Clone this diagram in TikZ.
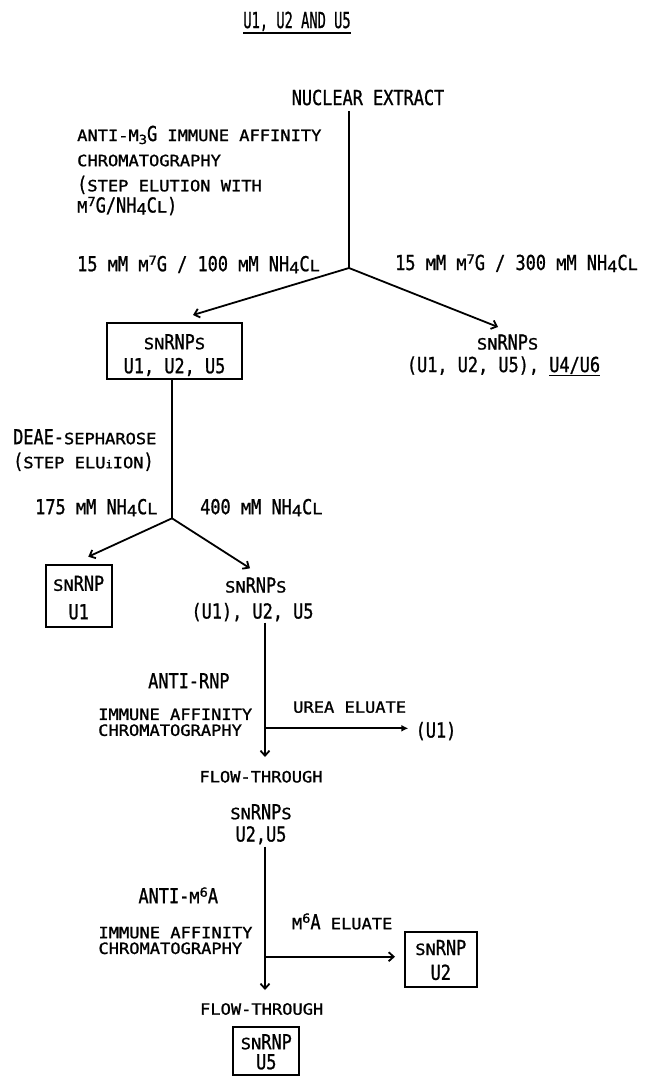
\documentclass[tikz,border=0pt]{standalone}
\usepackage{fontspec}
\usetikzlibrary{arrows.meta}
\newfontfamily\bigfont[FakeStretch=0.82, FakeBold=1.0]{DejaVu Sans Mono}
\newfontfamily\smfont[FakeStretch=1.1, FakeBold=1.3]{DejaVu Sans Mono}
\newcommand\smc[1]{{\smfont\fontsize{15.5}{16}\selectfont #1}}
\newcommand\supc[1]{\raisebox{6.5pt}{\smfont\fontsize{12.5}{12}\selectfont #1}}
\newcommand\subc[1]{\raisebox{-3pt}{\smfont\fontsize{12.5}{12}\selectfont #1}}
\newcommand\subn[1]{\raisebox{-2pt}{\smc{#1}}}
\begin{document}
\begin{tikzpicture}[x=1pt,y=-1pt,
  t/.style={inner sep=0pt, text height=15pt, text depth=0pt, font=\bigfont\fontsize{20.6}{22}\selectfont},
  tw/.style={t, anchor=west},
  ts/.style={t, text height=11.3pt},
  tsw/.style={ts, anchor=west},
  boxst/.style={draw, line width=1.9pt, inner sep=0pt},
  ln/.style={line width=1.8pt},
  arr/.style={ln, -{Straight Barb[length=5pt,width=9pt]}},
  arrf/.style={ln, -{Latex[length=7pt,width=7pt]}}]
\useasboundingbox (0,0) rectangle (650,1076);
% title
\node[t] (title) at (297,20.5) {\scalebox{0.76}[1]{\fontsize{22}{22}\selectfont U1, U2 AND U5}};
\draw[line width=1.4pt] ([yshift=-5pt]title.base west) -- ([yshift=-5pt]title.base east);
% step 1
\node[t] (ne) at (368,97.5) {NUCLEAR EXTRACT};
\node[tw] (l1) at (77,133.5) {\smc{ANTI-M}\subc{3}G \smc{IMMUNE AFFINITY}};
\node[tsw] (l2) at (77,160.5) {\smc{CHROMATOGRAPHY}};
\node[tw] (l3) at (77,183.8) {(\smc{STEP ELUTION WITH}};
\node[tw] (l4) at (77,205) {\smc{M}\supc{7}G/NH\subn{4}C\smc{L})};
\node[tw] (c1) at (77,263.7) {15 \smc{M}M \smc{M}\supc{7}G / 100 \smc{M}M NH\subn{4}C\smc{L}};
\node[tw] (c2) at (395,262.5) {15 \smc{M}M \smc{M}\supc{7}G / 300 \smc{M}M NH\subn{4}C\smc{L}};
\coordinate (b1) at (349,268);
\coordinate (t1) at (193,315);
\coordinate (t2) at (498,327);
\draw[ln] ([yshift=-6pt]b1 |- ne.south) -- (b1);
\draw[arr] (b1) -- (t1);
\draw[arr] (b1) -- (t2);
\node[boxst, minimum width=134.4pt, minimum height=55.7pt] (box1) at (174.5,351.2) {};
\node[t] (box1a) at (174.5,341.7) {\smc{SN}RNP\smc{S}};
\node[t] (box1b) at (174.5,365.7) {U1, U2, U5};
\node[t] (r1) at (507.6,342) {\smc{SN}RNP\smc{S}};
\node[t] (r2) at (503.5,364.5) {(U1, U2, U5), \underline{U4/U6}};
% step 2
\node[tw] (d1) at (13,436.7) {DEAE-\smc{SEPHAROSE}};
\node[tw] (d2) at (13,460.7) {(\smc{STEP ELU}{\smfont\fontsize{11}{11}\selectfont i}\smc{ION})};
\node[tw] (d3) at (35,506.7) {175 \smc{M}M NH\subn{4}C\smc{L}};
\node[tw] (d4) at (200,506.7) {400 \smc{M}M NH\subn{4}C\smc{L}};
\coordinate (b2) at (172,518.3);
\coordinate (t3) at (88.3,556.7);
\coordinate (t4) at (250,568.3);
\draw[ln] (box1.south -| b2) -- (b2);
\draw[arr] (b2) -- (t3);
\draw[arr] (b2) -- (t4);
\node[boxst, minimum width=66pt, minimum height=61.7pt] (boxu1) at (78.7,595.8) {};
\node[t] (boxu1a) at (78.7,583.3) {\smc{SN}RNP};
\node[t] (boxu1b) at (78.7,611.7) {U1};
\node[t] (s3a) at (255.8,585) {\smc{SN}RNP\smc{S}};
\node[t] (s3b) at (252.5,611) {(U1), U2, U5};
% step 3
\coordinate (t5) at (265,757);
\coordinate (h1) at (265,728.3);
\coordinate (t6) at (408.3,728.3);
\draw[arr] ([yshift=-4pt]s3b.south -| t5) -- (t5);
\draw[arrf] (h1) -- (t6);
\node[t] (u1r) at (436,730) {(U1)};
\node[tw] (ar) at (148,680.7) {ANTI-RNP};
\node[tsw] (ia1) at (98,714.3) {\smc{IMMUNE AFFINITY}};
\node[tsw] (ch1) at (98,730.2) {\smc{CHROMATOGRAPHY}};
\node[tsw] (ue) at (293,707) {\smc{UREA ELUATE}};
\node[ts] (ft1) at (261,776.7) {\smc{FLOW-THROUGH}};
% step 4
\node[t] (s4a) at (261,811.7) {\smc{SN}RNP\smc{S}};
\node[t] (s4b) at (261,834) {U2,U5};
\coordinate (t7) at (265,990);
\coordinate (h2) at (265,956.7);
\coordinate (t8) at (395,956.7);
\draw[arr] ([yshift=-5pt]s4b.south -| t7) -- (t7);
\draw[arr] (h2) -- (t8);
\node[tw] (am) at (138.3,895.7) {ANTI-\smc{M}\supc{6}A};
\node[tsw] (ia2) at (98.3,932.5) {\smc{IMMUNE AFFINITY}};
\node[tsw] (ch2) at (98.3,948.3) {\smc{CHROMATOGRAPHY}};
\node[tw] (me) at (291.7,921.7) {\smc{M}\supc{6}A \smc{ELUATE}};
\node[boxst, minimum width=71.7pt, minimum height=55pt] (boxu2) at (440.8,959.2) {};
\node[t] (boxu2a) at (440.8,947.5) {\smc{SN}RNP};
\node[t] (boxu2b) at (440.8,972.3) {U2};
\node[ts] (ft2) at (261.7,1009) {\smc{FLOW-THROUGH}};
\node[boxst, minimum width=66pt, minimum height=48.3pt] (boxu5) at (266.3,1050.8) {};
\node[t] (boxu5a) at (266.3,1041.7) {\smc{SN}RNP};
\node[t] (boxu5b) at (266.3,1061.7) {U5};
\end{tikzpicture}
\end{document}
